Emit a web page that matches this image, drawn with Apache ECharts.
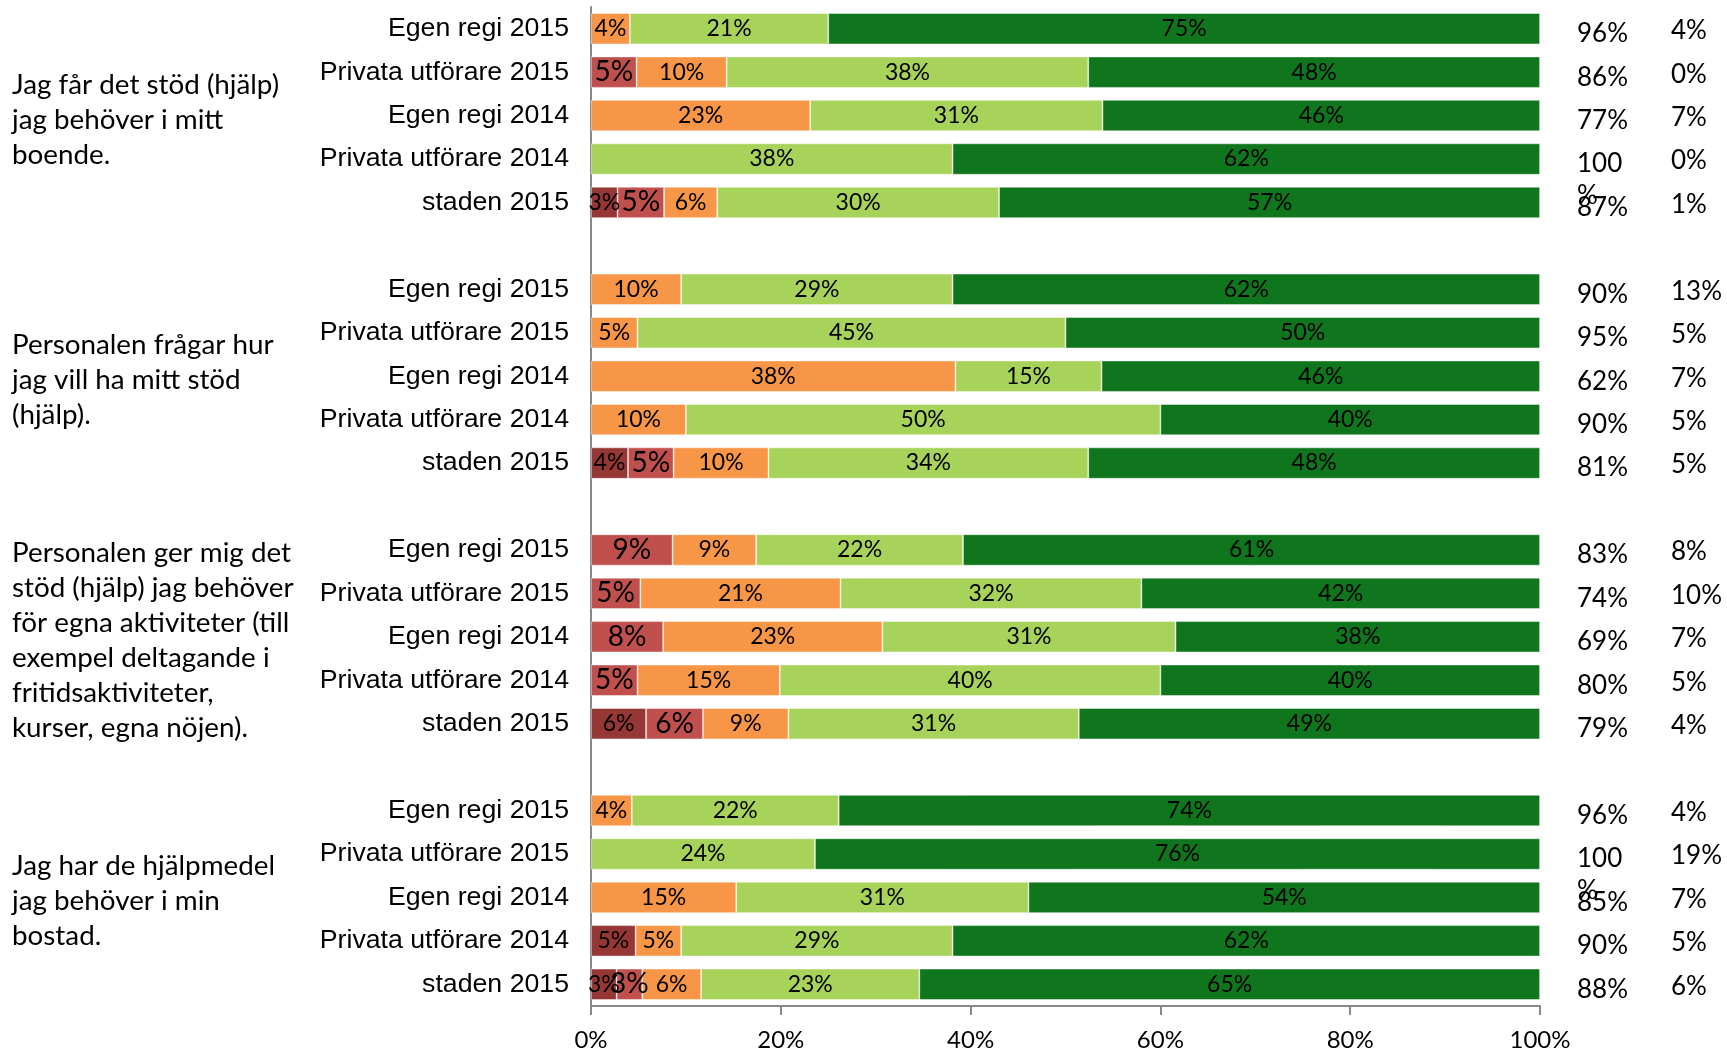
<!DOCTYPE html>
<html lang="sv">
<head>
  <meta charset="UTF-8">
  <title>Stöd och hjälp</title>
  <script src="https://cdn.jsdelivr.net/npm/echarts@6/dist/echarts.min.js"></script>
  <style>
    * { margin: 0; padding: 0; }
    body { background: #fff; }
    #main { width: 1727px; height: 1052px; }
  </style>
</head>
<body>
  <div id="main"></div>
  <script>
    // radetiketter, samma fem i varje grupp
    var rows = ['Egen regi 2015', 'Privata utförare 2015', 'Egen regi 2014', 'Privata utförare 2014', 'staden 2015'];

    // frågetexter till vänster, en per grupp
    var questions = [
      ['Jag får det stöd (hjälp)', 'jag behöver i mitt', 'boende.'],
      ['Personalen frågar hur', 'jag vill ha mitt stöd', '(hjälp).'],
      ['Personalen ger mig det', 'stöd (hjälp) jag behöver', 'för egna aktiviteter (till', 'exempel deltagande i', 'fritidsaktiviteter,', 'kurser, egna nöjen).'],
      ['Jag har de hjälpmedel', 'jag behöver i min', 'bostad.']
    ];

    // andelar i procent, 20 rader (4 grupper x 5)
    var darkRed = [0, 0, 0, 0, 2.8,   0, 0, 0, 0, 3.9,   0, 0, 0, 0, 5.8,   0, 0, 0, 4.7, 2.7];
    var red = [0, 4.8, 0, 0, 4.9,   0, 0, 0, 0, 4.8,   8.6, 5.2, 7.6, 4.9, 6.0,   0, 0, 0, 0, 2.7];
    var orange = [4.1, 9.5, 23.1, 0, 5.6,   9.5, 4.9, 38.4, 10.0, 10.0,   8.8, 21.1, 23.1, 15.0, 9.0,   4.3, 0, 15.3, 4.8, 6.2];
    var lightGreen = [20.9, 38.1, 30.8, 38.1, 29.7,   28.6, 45.1, 15.4, 50.0, 33.7,   21.8, 31.7, 30.9, 40.1, 30.6,   21.8, 23.6, 30.8, 28.6, 23.0];
    var darkGreen = [75.0, 47.6, 46.1, 61.9, 57.0,   61.9, 50.0, 46.2, 40.0, 47.6,   60.8, 42.0, 38.4, 40.0, 48.6,   73.9, 76.4, 53.9, 61.9, 65.4];

    // högra kolumnerna
    var colA = [96, 86, 77, 100, 87,   90, 95, 62, 90, 81,   83, 74, 69, 80, 79,   96, 100, 85, 90, 88];
    var colB = [4, 0, 7, 0, 1,   13, 5, 7, 5, 5,   8, 10, 7, 5, 4,   4, 19, 7, 5, 6];

    var xTicks = [0, 20, 40, 60, 80, 100];

    // lägg in tomma platser mellan grupperna
    function withGaps(arr, empty) {
      var out = [];
      for (var g = 0; g < 4; g++) {
        if (g > 0) out.push(empty);
        for (var i = 0; i < 5; i++) out.push(arr[g * 5 + i]);
      }
      return out;
    }

    var categories = withGaps(rows.concat(rows, rows, rows), '');
    var colALabels = withGaps(colA.map(function (v) { return v === 100 ? '\n100\n%' : v + '%'; }), '');
    var colBLabels = withGaps(colB.map(function (v) { return v + '%'; }), '');

    var font = 'Lato, "Open Sans", sans-serif';

    function seg(name, data, color, size) {
      return {
        name: name,
        type: 'bar',
        stack: 'all',
        barCategoryGap: '28%',
        data: withGaps(data.map(function (v) { return v > 0 ? v : null; }), null),
        itemStyle: { color: color, borderColor: 'rgba(255,255,255,0.55)', borderWidth: 0.8 },
        label: {
          show: true,
          position: 'inside',
          color: '#000',
          fontFamily: font,
          fontSize: size,
          formatter: function (p) { return Math.round(p.value) + '%'; }
        }
      };
    }

    var chart = echarts.init(document.getElementById('main'));

    // högerkolumn som extra kategoriaxel; en tom rad överst skjuter texten lite nedåt
    var sideAxis = function (labels, offset, shift) {
      return {
        type: 'category',
        inverse: true,
        position: 'right',
        offset: offset,
        data: labels,
        axisLine: { show: false },
        axisTick: { show: false },
        axisLabel: {
          margin: 37,
          align: 'left',
          color: '#000',
          fontFamily: font,
          fontSize: 26,
          lineHeight: 32,
          interval: 0,
          formatter: function (v) {
            return v ? '{s|}\n' + v : v;
          },
          rich: { s: { lineHeight: shift * 2, fontSize: 1 } }
        }
      };
    };

    chart.setOption({
      animation: false,
      grid: { left: 591, right: 187, top: 7, bottom: 46 },
      xAxis: {
        type: 'value',
        min: 0,
        max: 100,
        interval: 20,
        data: xTicks,
        axisLine: { show: true, lineStyle: { color: '#888', width: 2 } },
        axisTick: { show: true, length: 9, lineStyle: { color: '#888', width: 2 } },
        splitLine: { show: false },
        axisLabel: { formatter: '{value}%', color: '#000', fontFamily: font, fontSize: 24, margin: 22 }
      },
      yAxis: [
        {
          type: 'category',
          inverse: true,
          data: categories,
          axisLine: { show: true, lineStyle: { color: '#888', width: 2 } },
          axisTick: { show: false },
          axisLabel: {
            interval: 0,
            margin: 22,
            color: '#000',
            fontFamily: '"Liberation Sans", Arial, sans-serif',
            fontSize: 26.7
          }
        },
        sideAxis(colALabels, 0, 5),
        sideAxis(colBLabels, 94, 2)
      ],
      series: [
        seg('Mycket dåligt', darkRed, '#953735', 23),
        seg('Dåligt', red, '#c0504d', 28),
        seg('Varken eller', orange, '#f79646', 23),
        seg('Bra', lightGreen, '#a7d35b', 23),
        seg('Mycket bra', darkGreen, '#0f761d', 23)
      ]
    });

    // frågetexterna placeras vid mittersta raden i varje grupp
    var texts = questions.map(function (lines, g) {
      var y = chart.convertToPixel({ yAxisIndex: 0 }, g * 6 + 2);
      return {
        type: 'text',
        left: 12,
        top: y - lines.length * 35 / 2 + 4,
        style: {
          text: lines.join('\n'),
          fill: '#000',
          font: '27.8px ' + font,
          lineHeight: 35
        }
      };
    });
    chart.setOption({ graphic: texts });
  </script>
</body>
</html>
